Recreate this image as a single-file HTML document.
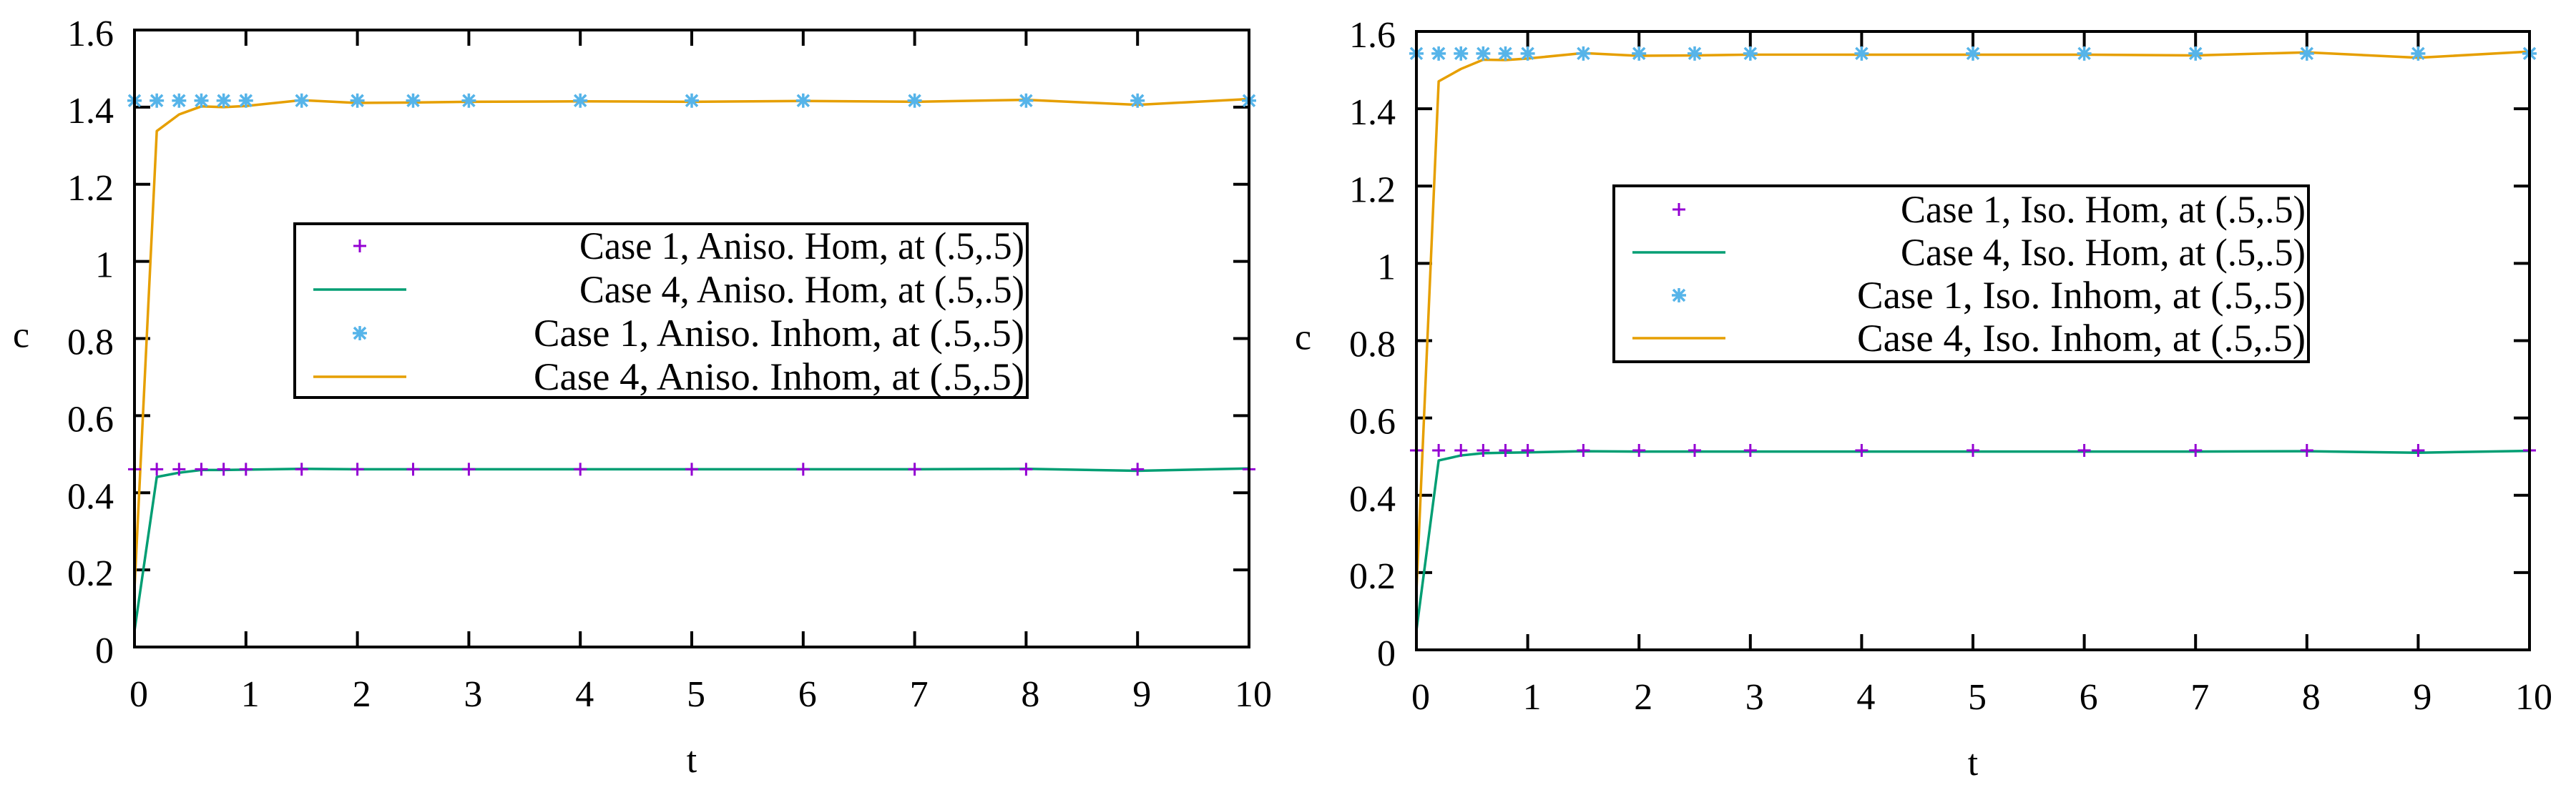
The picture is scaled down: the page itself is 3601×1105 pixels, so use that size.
<!DOCTYPE html>
<html><head><meta charset="utf-8"><style>
html,body{margin:0;padding:0;background:#fff;}
svg{display:block;font-family:"Liberation Serif","DejaVu Serif",serif;}
svg text{font-family:"Liberation Serif","DejaVu Serif",serif !important;fill:#000;}
</style></head><body>
<svg id="fig" width="3601" height="1105" viewBox="0 0 3601 1105" xmlns="http://www.w3.org/2000/svg" font-family="Liberation Serif, serif"></svg>
<script>
// ---- data ----
const tPts = [0,0.2,0.4,0.6,0.8,1,1.5,2,2.5,3,4,5,6,7,8,9,10];
const tLine = [0,0.2,0.4,0.6,0.8,1,1.5,2,2.5,3,4,5,6,7,8,9,10];
const leftHomPts = [0.461,0.461,0.461,0.461,0.461,0.461,0.461,0.461,0.461,0.461,0.461,0.461,0.461,0.461,0.461,0.461,0.461];
const leftHomLine = [0.042,0.441,0.452,0.459,0.459,0.460,0.462,0.461,0.461,0.461,0.461,0.461,0.461,0.461,0.462,0.457,0.463];
const leftInhPts = [1.417,1.417,1.417,1.417,1.417,1.417,1.417,1.417,1.417,1.417,1.417,1.417,1.417,1.417,1.417,1.417,1.417];
const leftInhLine = [0.15,1.338,1.381,1.402,1.400,1.403,1.418,1.411,1.412,1.414,1.415,1.414,1.416,1.414,1.419,1.406,1.421];
const rightHomPts = [0.516,0.516,0.516,0.516,0.516,0.516,0.516,0.516,0.516,0.516,0.516,0.516,0.516,0.516,0.516,0.516,0.516];
const rightHomLine = [0.05,0.490,0.503,0.509,0.510,0.511,0.514,0.513,0.513,0.513,0.513,0.513,0.513,0.513,0.514,0.510,0.515];
const rightInhPts = [1.543,1.543,1.543,1.543,1.543,1.543,1.543,1.543,1.543,1.543,1.543,1.543,1.543,1.543,1.543,1.543,1.543];
const rightInhLine = [0.15,1.471,1.503,1.527,1.526,1.530,1.544,1.537,1.538,1.540,1.540,1.540,1.540,1.538,1.546,1.532,1.548];
const xTicks = [0,1,2,3,4,5,6,7,8,9,10];
const yTicks = [0,0.2,0.4,0.6,0.8,1,1.2,1.4,1.6];
const yTickLabels = ["0","0.2","0.4","0.6","0.8","1","1.2","1.4","1.6"];
const leftLabels = ["Case 1, Aniso. Hom, at (.5,.5)","Case 4, Aniso. Hom, at (.5,.5)","Case 1, Aniso. Inhom, at (.5,.5)","Case 4, Aniso. Inhom, at (.5,.5)"];
const rightLabels = ["Case 1, Iso. Hom, at (.5,.5)","Case 4, Iso. Hom, at (.5,.5)","Case 1, Iso. Inhom, at (.5,.5)","Case 4, Iso. Inhom, at (.5,.5)"];

const NS="http://www.w3.org/2000/svg";
const svg=document.getElementById('fig');
const FONT='"Liberation Serif", "DejaVu Serif", serif';
function mk(tag,attrs,parent){const e=document.createElementNS(NS,tag);for(const k in attrs)e.setAttribute(k,attrs[k]);if(tag==='text'){e.style.fontFamily=FONT;}(parent||svg).appendChild(e);return e;}
const PURPLE="#9400D3",GREEN="#009E73",BLUE="#56B4E9",ORANGE="#E69F00";

function plus(g,x,y){const p=mk('path',{d:`M${x-9},${y}H${x+9}M${x},${y-9}V${y+9}`,stroke:PURPLE,'stroke-width':3,fill:'none'},g);

}
function star(g,x,y){const p=mk('path',{d:`M${x-10},${y}H${x+10}M${x},${y-10}V${y+10}M${x-8},${y-8}L${x+8},${y+8}M${x-8},${y+8}L${x+8},${y-8}`,stroke:BLUE,'stroke-width':3.5,fill:'none'},g);

}

function panel(cfg){
  const g=mk('g',{});
  
  
  const {L,R,T,B}=cfg;
  const xs=t=>L+(R-L)*t/10;
  const ys=v=>B-(B-T)*v/1.6;
  xTicks.forEach(t=>{
    const x=xs(t);
    if(t>0&&t<10){mk('path',{d:`M${x},${B}V${B-22}M${x},${T}V${T+22}`,stroke:'#000','stroke-width':4},g);}
    const tx=mk('text',{x:x+6,y:B+83,'font-size':52,'text-anchor':'middle'},g);tx.textContent=t;
    
    
  });
  yTicks.forEach((v,i)=>{
    const y=ys(v);
    if(i>0&&i<yTicks.length-1){mk('path',{d:`M${L},${y}H${L+22}M${R},${y}H${R-22}`,stroke:'#000','stroke-width':4},g);}
    const tx=mk('text',{x:L-29,y:y+22,'font-size':52,'text-anchor':'end'},g);tx.textContent=yTickLabels[i];
    
    
  });
  const line=(vals,col,nm)=>{const p=mk('polyline',{points:tLine.map((t,i)=>xs(t)+','+ys(vals[i])).join(' '),fill:'none',stroke:col,'stroke-width':3.5,'stroke-linejoin':'round'},g);
    
    };
  line(cfg.homLine,GREEN,'case4-hom-line');
  line(cfg.inhLine,ORANGE,'case4-inhom-line');
  tPts.forEach((t,i)=>plus(g,xs(t),ys(cfg.homPts[i])));
  tPts.forEach((t,i)=>star(g,xs(t),ys(cfg.inhPts[i])));
  const fr=mk('rect',{x:L,y:T,width:R-L,height:B-T,fill:'none',stroke:'#000','stroke-width':4},g);
  
  
  const yl=mk('text',{x:cfg.cx,y:(T+B)/2+12,'font-size':52},g);yl.textContent='c';
  
  
  const xl=mk('text',{x:(L+R)/2,y:B+175,'font-size':52,'text-anchor':'middle'},g);xl.textContent='t';
  
  
  const lg=mk('g',{},g);
  
  
  const lb=cfg.leg;
  mk('rect',{x:lb.x,y:lb.y,width:lb.w,height:lb.h,fill:'#fff',stroke:'#000','stroke-width':4},lg);
  cfg.labels.forEach((s,i)=>{
    const cy=lb.y+lb.r0+i*lb.dy;
    const sx=lb.x+91;
    if(i===0)plus(lg,sx,cy);
    if(i===2)star(lg,sx,cy);
    if(i===1)mk('path',{d:`M${lb.x+26},${cy}H${lb.x+156}`,stroke:GREEN,'stroke-width':3.5},lg);
    if(i===3)mk('path',{d:`M${lb.x+26},${cy}H${lb.x+156}`,stroke:ORANGE,'stroke-width':3.5},lg);
    const tx=mk('text',{x:lb.x+lb.w-4,y:cy+18,'font-size':54,'text-anchor':'end',textLength:lb.tw[i],lengthAdjust:'spacingAndGlyphs'},lg);
    tx.textContent=s;
    
    
  });
}
panel({name:'left-panel',L:188,R:1746,T:42,B:905,cx:18,homPts:leftHomPts,homLine:leftHomLine,inhPts:leftInhPts,inhLine:leftInhLine,labels:leftLabels,
  leg:{x:412,y:313,w:1024,h:243,r0:31,dy:61,tw:[622,622,686,686]}});
panel({name:'right-panel',L:1980,R:3536,T:44,B:909,cx:1810,homPts:rightHomPts,homLine:rightHomLine,inhPts:rightInhPts,inhLine:rightInhLine,labels:rightLabels,
  leg:{x:2256,y:260,w:971,h:246,r0:33,dy:60,tw:[566,566,627,627]}});
</script>
</body></html>
